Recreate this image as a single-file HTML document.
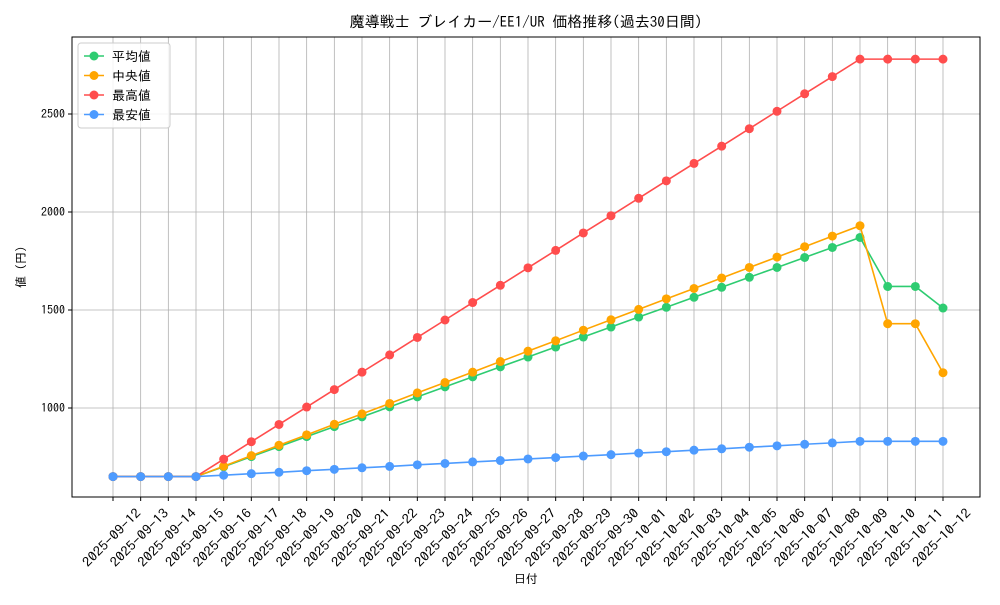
<!DOCTYPE html>
<html><head><meta charset="utf-8"><style>
body{margin:0;background:#fff;}
svg text{font-family:"IPAGothic","Noto Sans CJK JP",sans-serif;fill:#000;}
</style></head><body>
<svg id="chart" width="1000" height="600"></svg>
<script>
const dates=["2025-09-12","2025-09-13","2025-09-14","2025-09-15","2025-09-16","2025-09-17","2025-09-18","2025-09-19","2025-09-20","2025-09-21","2025-09-22","2025-09-23","2025-09-24","2025-09-25","2025-09-26","2025-09-27","2025-09-28","2025-09-29","2025-09-30","2025-10-01","2025-10-02","2025-10-03","2025-10-04","2025-10-05","2025-10-06","2025-10-07","2025-10-08","2025-10-09","2025-10-10","2025-10-11","2025-10-12"];
const avgVals=[650,650,650,650,700,752,803,854,905,955,1006,1057,1108,1159,1210,1260,1311,1362,1413,1464,1514,1565,1616,1667,1717,1768,1819,1870,1620,1620,1510];
const medVals=[650,650,650,650,703,757,810,863,917,970,1023,1077,1130,1183,1237,1290,1343,1397,1450,1503,1557,1610,1663,1717,1770,1823,1877,1930,1430,1430,1180];
const maxVals=[650,650,650,650,739,828,916,1005,1094,1183,1271,1360,1449,1538,1626,1715,1804,1893,1981,2070,2159,2248,2336,2425,2514,2603,2691,2780,2780,2780,2780];
const minVals=[650,650,650,650,657,665,672,680,687,695,702,710,717,725,732,740,747,755,762,770,777,785,792,800,807,815,822,830,830,830,830];
const yTicks=[1000,1500,2000,2500];
const seriesNames=["平均値","中央値","最高値","最安値"];
const NS="http://www.w3.org/2000/svg";
const svg=document.getElementById('chart');
const L=72,R=980,T=37,B=497;
function xs(i){return 113+i*(943-113)/(dates.length-1);}
function ys(v){return 408-(v-1000)*0.196;}
function mk(tag,attrs,parent){const e=document.createElementNS(NS,tag);for(const k in attrs)e.setAttribute(k,attrs[k]);(parent||svg).appendChild(e);return e;}
dates.forEach((d,i)=>{const g=mk('line',{x1:xs(i),x2:xs(i),y1:T,y2:B,stroke:'#b0b0b0','stroke-width':0.8});

});
yTicks.forEach(v=>{const g=mk('line',{x1:L,x2:R,y1:ys(v),y2:ys(v),stroke:'#b0b0b0','stroke-width':0.8});


mk('line',{x1:L-4,x2:L,y1:ys(v),y2:ys(v),stroke:'#000'});
const t=mk('text',{x:L-7,y:ys(v)+4,'text-anchor':'end','font-size':12});t.textContent=v;

});
dates.forEach((d,i)=>{mk('line',{x1:xs(i),x2:xs(i),y1:B,y2:B+4,stroke:'#000'});
const cx=xs(i)-1,cy=538;
const t=mk('text',{x:cx,y:cy+4,'text-anchor':'middle','font-size':13,textLength:76,lengthAdjust:'spacingAndGlyphs',transform:`rotate(-45 ${cx} ${cy})`});t.textContent=d;

});
const frame=mk('rect',{x:L,y:T,width:R-L,height:B-T,fill:'none',stroke:'#000','stroke-width':1});


const all=[[avgVals,'#2ecc71','avg'],[medVals,'#ffa500','median'],[maxVals,'#ff4d4d','max'],[minVals,'#4d9bff','min']];
all.forEach(([vals,c,n])=>{const g=mk('g',{});


mk('polyline',{points:vals.map((v,i)=>xs(i)+','+ys(v)).join(' '),fill:'none',stroke:c,'stroke-width':1.6},g);
vals.forEach((v,i)=>{const p=mk('circle',{cx:xs(i),cy:ys(v),r:4.5,fill:c},g);

});});
const lg=mk('g',{});


mk('rect',{x:78,y:43,width:92,height:85,rx:3,fill:'#fff','fill-opacity':0.85,stroke:'#ccc'},lg);
seriesNames.forEach((n,i)=>{const y=56+i*19.5;const c=all[i][1];
const e=mk('g',{},lg);


mk('line',{x1:84,x2:104,y1:y,y2:y,stroke:c,'stroke-width':1.6},e);
mk('circle',{cx:94,cy:y,r:4.5,fill:c},e);
const t=mk('text',{x:112,y:y+5,'font-size':13},e);t.textContent=n;});
const title=mk('text',{x:526,y:27,'text-anchor':'middle','font-size':15});title.textContent='魔導戦士 ブレイカー/EE1/UR 価格推移(過去30日間)';


const xl=mk('text',{x:526,y:583,'text-anchor':'middle','font-size':12});xl.textContent='日付';


const yl=mk('text',{x:25,y:267,'text-anchor':'middle','font-size':12,transform:'rotate(-90 25 267)'});yl.textContent='値 (円)';


</script>
</body></html>
